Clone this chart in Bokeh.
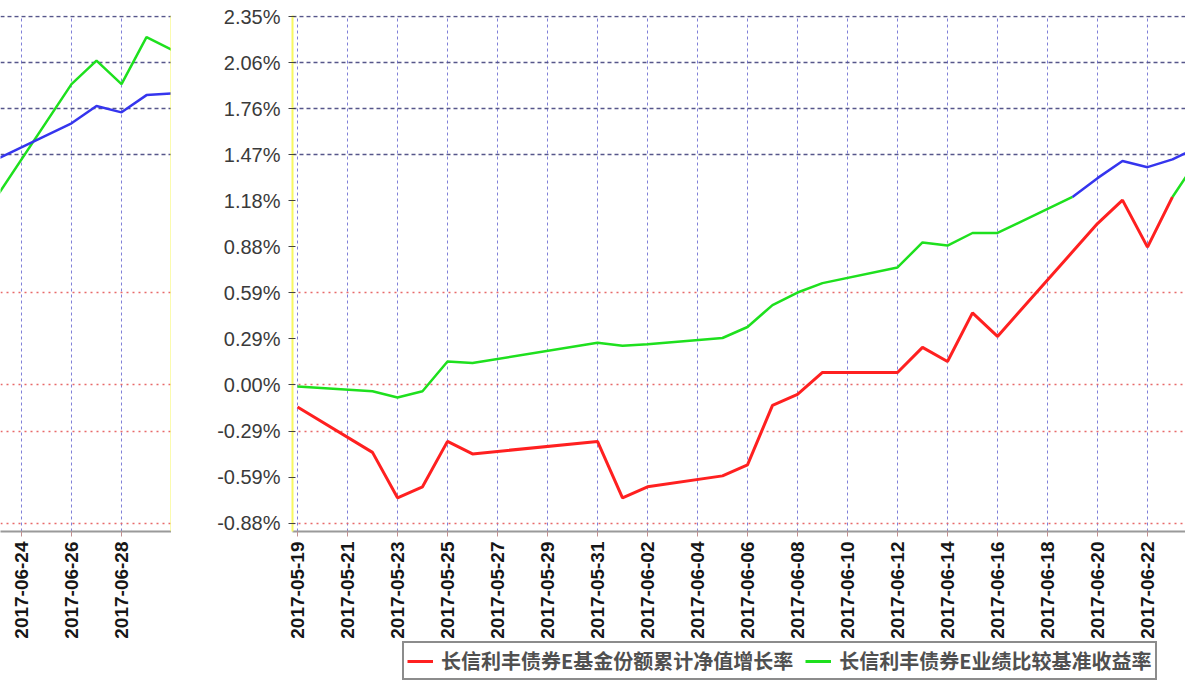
import math
import numpy as np
import pandas as pd
from bokeh.plotting import figure
from bokeh.layouts import row, column
from bokeh.models import (ColumnDataSource, FixedTicker, Grid, Legend, LegendItem,
                          Range1d, Span, CustomJSTickFormatter, DatetimeTickFormatter)
from bokeh.embed import file_html
from bokeh.resources import INLINE

nan = float("nan")

# ---------------- data (percent) ----------------
dates = ["2017-05-19", "2017-05-22", "2017-05-23", "2017-05-24", "2017-05-25",
         "2017-05-26", "2017-05-31", "2017-06-01", "2017-06-02", "2017-06-05",
         "2017-06-06", "2017-06-07", "2017-06-08", "2017-06-09", "2017-06-12",
         "2017-06-13", "2017-06-14", "2017-06-15", "2017-06-16", "2017-06-19",
         "2017-06-20", "2017-06-21", "2017-06-22", "2017-06-23", "2017-06-26",
         "2017-06-27", "2017-06-28", "2017-06-29", "2017-06-30"]

fund_growth = [-0.14, -0.43, -0.72, -0.65, -0.36,
               -0.44, -0.36, -0.72, -0.65, -0.58,
               -0.51, -0.13, -0.06, 0.08, 0.08,
               0.24, 0.15, 0.46, 0.31, 0.85,
               1.03, 1.18, 0.88, 1.20, nan,
               nan, nan, nan, nan]

benchmark = [-0.01, -0.04, -0.08, -0.04, 0.15,
             0.14, 0.27, 0.25, 0.26, 0.30,
             0.37, 0.51, 0.59, 0.65, 0.75,
             0.91, 0.89, 0.97, 0.97, 1.20,
             nan, nan, nan, 1.20, 1.92,
             2.07, 1.92, 2.22, 2.14]

benchmark_alt = [nan, nan, nan, nan, nan,
                 nan, nan, nan, nan, nan,
                 nan, nan, nan, nan, nan,
                 nan, nan, nan, nan, 1.20,
                 1.32, 1.43, 1.39, 1.44, 1.67,
                 1.78, 1.74, 1.85, 1.86]

series_names = ["长信利丰债券E基金份额累计净值增长率", "长信利丰债券E业绩比较基准收益率"]
series_colors = ["#ff2020", "#1ee01e", "#3535ee"]

x_ticks_main = ["2017-05-19", "2017-05-21", "2017-05-23", "2017-05-25", "2017-05-27",
                "2017-05-29", "2017-05-31", "2017-06-02", "2017-06-04", "2017-06-06",
                "2017-06-08", "2017-06-10", "2017-06-12", "2017-06-14", "2017-06-16",
                "2017-06-18", "2017-06-20", "2017-06-22"]
x_ticks_wrap = ["2017-06-24", "2017-06-26", "2017-06-28"]

y_ticks = [-0.881, -0.588, -0.294, 0.0, 0.294, 0.588, 0.881, 1.176, 1.469, 1.763, 2.056, 2.35]
y_tick_labels = ["-0.88%", "-0.59%", "-0.29%", "0.00%", "0.29%", "0.59%", "0.88%",
                 "1.18%", "1.47%", "1.76%", "2.06%", "2.35%"]

# ---------------- helpers ----------------
DAY = 86400000.0


def ms(s):
    return pd.Timestamp(s).value / 1e6


src = ColumnDataSource(dict(
    date=pd.to_datetime(dates),
    fund=np.array(fund_growth, dtype=float),
    bench=np.array(benchmark, dtype=float),
    alt=np.array(benchmark_alt, dtype=float),
))

y_range = Range1d(-0.935, 2.358)
split = ms("2017-06-23") + 0.52 * DAY

X_FONT = "Liberation Sans"
FIG_H = 641
TOP = 15
BOTTOM = 108


def style_xaxis(p, ticks):
    ax = p.xaxis[0]
    ax.ticker = FixedTicker(ticks=[ms(t) for t in ticks])
    ax.formatter = DatetimeTickFormatter(days="%Y-%m-%d", months="%Y-%m-%d",
                                         hours="%Y-%m-%d", years="%Y-%m-%d")
    ax.major_label_orientation = math.pi / 2
    ax.major_label_text_font = X_FONT
    ax.major_label_text_font_size = "19px"
    ax.major_label_text_font_style = "bold"
    ax.major_label_text_color = "#161616"
    ax.axis_line_color = "#9a9a9a"
    ax.axis_line_width = 2
    ax.major_tick_line_color = "#c09090"
    ax.major_tick_out = 5
    ax.major_tick_in = 0
    ax.minor_tick_line_color = None
    ax.major_label_standoff = 5


def add_grids(p):
    p.xgrid.grid_line_color = "#8080d8"
    p.xgrid.grid_line_dash = "3 3"
    p.xgrid.grid_line_width = 1
    p.ygrid.visible = False
    upper = [y_ticks[i] for i in (8, 9, 10, 11)]
    lower = [y_ticks[i] for i in (0, 2, 3, 5)]
    p.add_layout(Grid(dimension=1, ticker=FixedTicker(ticks=upper),
                      grid_line_color="#56568a", grid_line_dash="4 3", grid_line_width=1.3))
    p.add_layout(Grid(dimension=1, ticker=FixedTicker(ticks=lower),
                      grid_line_color="#e86a6a", grid_line_dash="2 4", grid_line_width=1.3))


def add_lines(p):
    r_red = p.line("date", "fund", source=src, line_color=series_colors[0], line_width=3)
    r_green = p.line("date", "bench", source=src, line_color=series_colors[1], line_width=2.5)
    p.line("date", "alt", source=src, line_color=series_colors[2], line_width=2.5)
    return r_red, r_green


# ---------------- wrapped right-hand fragment (drawn at left) ----------------
p_wrap = figure(width=171, height=FIG_H, x_axis_type="datetime",
                x_range=Range1d(ms("2017-06-24") - 0.84 * DAY, ms(dates[-1])),
                y_range=y_range,
                y_axis_location=None, output_backend="svg", toolbar_location=None,
                min_border_left=0, min_border_right=0, min_border_top=TOP,
                min_border_bottom=BOTTOM, outline_line_color=None)
style_xaxis(p_wrap, x_ticks_wrap)
add_grids(p_wrap)
add_lines(p_wrap)
p_wrap.add_layout(Span(location=ms(dates[-1]), dimension="height",
                       line_color="#f8f860", line_width=2))

# ---------------- main chart ----------------
p = figure(width=1014, height=FIG_H, x_axis_type="datetime",
           x_range=Range1d(ms(dates[0]) - 0.2 * DAY, split), y_range=y_range,
           output_backend="svg", toolbar_location=None,
           min_border_left=121, min_border_right=0, min_border_top=TOP,
           min_border_bottom=BOTTOM, outline_line_color=None)
style_xaxis(p, x_ticks_main)
add_grids(p)
add_lines(p)

yax = p.yaxis[0]
yax.ticker = FixedTicker(ticks=y_ticks)
yax.formatter = CustomJSTickFormatter(args=dict(labels=y_tick_labels, vals=y_ticks), code="""
    let best = 0;
    for (let i = 0; i < vals.length; i++) {
        if (Math.abs(vals[i] - tick) < Math.abs(vals[best] - tick)) best = i;
    }
    return labels[best];
""")
yax.major_label_text_font = X_FONT
yax.major_label_text_font_size = "20px"
yax.major_label_text_color = "#3a3a3a"
yax.axis_line_color = "#f8f860"
yax.axis_line_width = 2
yax.major_tick_line_color = "#444444"
yax.major_tick_in = 3
yax.major_tick_out = 4
yax.minor_tick_line_color = None
yax.major_label_standoff = 8

# ---------------- legend strip ----------------
# The strip's ranges exclude all data, so its lines only serve as legend keys.
p_leg = figure(width=1185, height=684 - FIG_H, x_range=Range1d(0, 1), y_range=Range1d(0, 1),
               output_backend="svg", toolbar_location=None,
               x_axis_location=None, y_axis_location=None,
               min_border_left=0, min_border_right=0, min_border_top=0, min_border_bottom=0,
               outline_line_color=None)
p_leg.xgrid.visible = False
p_leg.ygrid.visible = False
k_red = p_leg.line("date", "fund", source=src, line_color=series_colors[0], line_width=3)
k_green = p_leg.line("date", "bench", source=src, line_color=series_colors[1], line_width=3)

legend = Legend(items=[LegendItem(label=series_names[0], renderers=[k_red]),
                       LegendItem(label=series_names[1], renderers=[k_green])],
                orientation="horizontal", location=(402, 4), margin=0,
                padding=3, spacing=12, glyph_width=26, glyph_height=20,
                label_standoff=8, label_height=20,
                label_text_font="Noto Sans CJK SC", label_text_font_size="20px",
                label_text_color="#505050", label_text_font_style="bold",
                border_line_color="#1a1a1a", border_line_width=2,
                background_fill_color="white", background_fill_alpha=1)
p_leg.add_layout(legend)

layout = column(row(p_wrap, p, spacing=0), p_leg, spacing=0)
open("out.html", "w").write(file_html(layout, INLINE))
